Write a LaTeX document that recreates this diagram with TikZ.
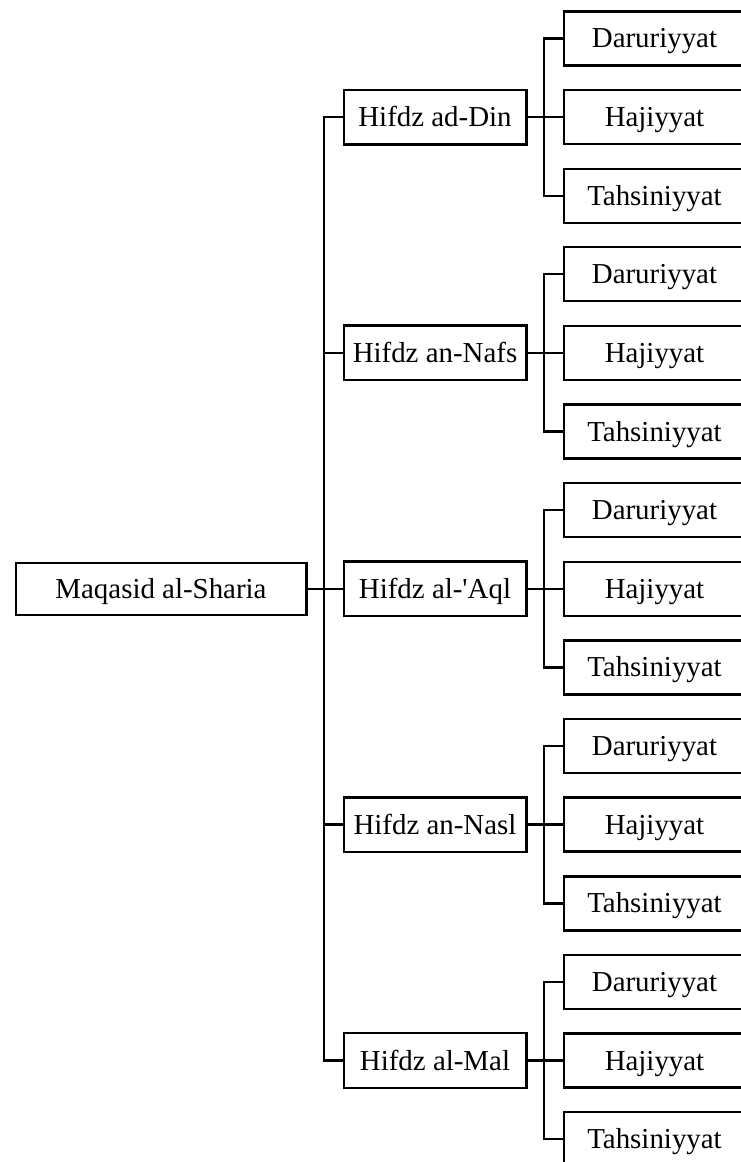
\documentclass[tikz,border=0pt]{standalone}
\usepackage{fontspec}
\setmainfont{Liberation Serif}
\begin{document}
\begin{tikzpicture}[x=1pt,y=-1pt,
  box/.style={draw, line width=2.4pt, inner sep=0pt, text height=19pt, text depth=0pt,
    font=\fontsize{28.9}{34}\selectfont},
  rootbox/.style={box, minimum width=290.6pt, minimum height=52pt},
  midbox/.style={box, minimum width=182.6pt, minimum height=54.6pt},
  leafbox/.style={box, minimum width=181.6pt, minimum height=54pt},
  conn/.style={line width=2.4pt}]
\useasboundingbox (0,0) rectangle (740,1162);
\node[rootbox] (root) at (161,588.7) {Maqasid al-Sharia};
\foreach \i/\yy/\name in {1/117/{Hifdz ad-Din}, 2/352.9/{Hifdz an-Nafs}, 3/588.7/{Hifdz al-\textquotesingle Aql}, 4/824.6/{Hifdz an-Nasl}, 5/1060.5/{Hifdz al-Mal}} {
  \node[midbox] (m\i) at (435,\yy) {\name};
  \node[leafbox] (d\i) at (654.5,\yy-78.7) {Daruriyyat};
  \node[leafbox] (h\i) at (654.5,\yy) {Hajiyyat};
  \node[leafbox] (t\i) at (654.5,\yy+78.7) {Tahsiniyyat};
  \draw[conn] (m\i.east) -- (h\i.west);
  \draw[conn] (d\i.west) -- ++(-18.7,0) |- (t\i.west);
}
\draw[conn] (root.east) -- (m3.west);
\draw[conn] (m1.west) -- ++(-18.7,0) |- (m5.west);
\foreach \i in {2,3,4} \draw[conn] (m\i.west) -- ++(-18.7,0);
\end{tikzpicture}
\end{document}
